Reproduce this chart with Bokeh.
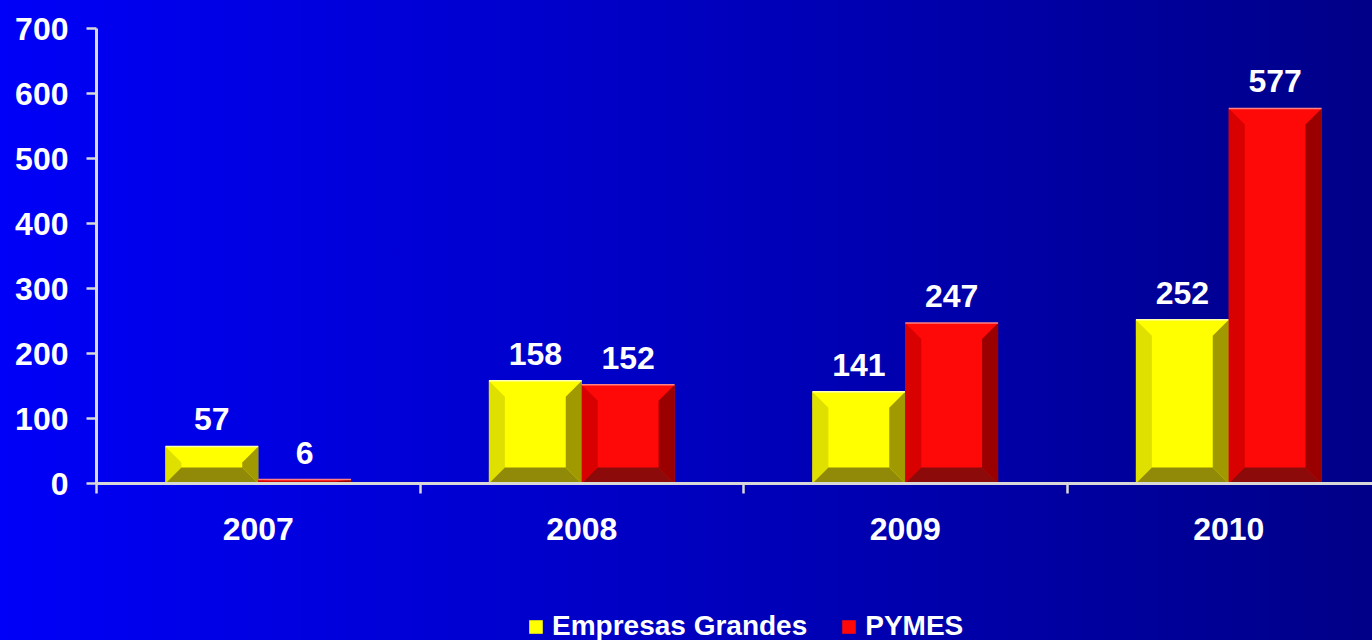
from bokeh.plotting import figure
from bokeh.layouts import column
from bokeh.models import (Range1d, FixedTicker, Legend, LegendItem)
from bokeh.embed import file_html
from bokeh.resources import INLINE
from bokeh.core.properties import value

# ---- data ----
years = ["2007", "2008", "2009", "2010"]
empresas_grandes = [57, 158, 141, 252]
pymes = [6, 152, 247, 577]
y_ticks = [0, 100, 200, 300, 400, 500, 600, 700]
series_names = ["Empresas Grandes", "PYMES"]

FONT = "Liberation Sans"
BG = {"background": "linear-gradient(to right, #0000F8, #000088)"}
W, H, LEG_H = 1372, 600, 40
FRAME_L, FRAME_T, FRAME_B = 96, 28, 117
frame_w = W - FRAME_L
frame_h = H - FRAME_T - FRAME_B
cat_px = 323.5
x_end = frame_w / cat_px
y_end = 700

p = figure(width=W, height=H, output_backend="svg", toolbar_location=None,
           x_range=Range1d(0, x_end), y_range=Range1d(0, y_end),
           min_border_left=FRAME_L, min_border_top=FRAME_T,
           min_border_bottom=FRAME_B, min_border_right=0)
p.styles = BG
p.background_fill_color = None
p.border_fill_color = None
p.outline_line_color = None
p.grid.visible = False

# bars
bw = 0.287
centers = [i + 0.5 for i in range(len(years))]
bx = 16 / cat_px                 # bevel width in x units
by_full = 16 * y_end / frame_h   # bevel height in y units

def bevel_parts(xc, val):
    xl, xr = xc - bw / 2, xc + bw / 2
    by = min(by_full, val / 2)
    bxx = min(bx, bw / 2)
    left = ([xl, xl, xl + bxx, xl + bxx], [0, val, val - by, by])
    right = ([xr, xr, xr - bxx, xr - bxx], [0, val, val - by, by])
    bottom = ([xl, xr, xr - bxx, xl + bxx], [0, 0, by, by])
    return left, right, bottom

styles = [
    ("#FFFF00", "#E0E000", "#A09A00", "#908A08", "#FFFFB0"),
    ("#FF0808", "#D80000", "#9A0000", "#8C0A0A", "#FF8080"),
]
series = [(series_names[0], empresas_grandes, -bw / 2), (series_names[1], pymes, bw / 2)]

for (name, vals, off), (face, lc, rc, bc, edge) in zip(series, styles):
    xs = [c + off for c in centers]
    p.vbar(x=xs, top=vals, width=bw, bottom=0, fill_color=face, line_color=None)
    Lx, Ly, Rx, Ry, Bx, By = [], [], [], [], [], []
    for xc, v in zip(xs, vals):
        (lx, ly), (rx, ry), (bbx, bby) = bevel_parts(xc, v)
        Lx.append(lx); Ly.append(ly); Rx.append(rx); Ry.append(ry); Bx.append(bbx); By.append(bby)
    p.patches(xs=Lx, ys=Ly, fill_color=lc, line_color=None)
    p.patches(xs=Rx, ys=Ry, fill_color=rc, line_color=None)
    p.patches(xs=Bx, ys=By, fill_color=bc, line_color=None)
    p.segment(x0=[x - bw / 2 for x in xs], x1=[x + bw / 2 for x in xs],
              y0=vals, y1=vals, line_color=edge, line_width=1.5)
    p.text(x=xs, y=vals, text=[str(v) for v in vals], y_offset=-27,
           text_align="center", text_baseline="alphabetic",
           text_color="white", text_font=value(FONT), text_font_size="32px",
           text_font_style="bold")

# axes
ax = p.xaxis[0]
ax.ticker = FixedTicker(ticks=centers, minor_ticks=[0, 1, 2, 3, 4])
ax.major_label_overrides = {c: y for c, y in zip(centers, years)}
ax.major_tick_out = 0
ax.major_tick_in = 0
ax.minor_tick_out = 10
ax.minor_tick_in = 0
ax.minor_tick_line_color = "#D8D8D8"
ax.minor_tick_line_width = 2.5
ax.axis_line_color = "#D8D8D8"
ax.axis_line_width = 3
ax.major_label_text_color = "white"
ax.major_label_text_font = FONT
ax.major_label_text_font_size = "32px"
ax.major_label_text_font_style = "bold"
ax.major_label_standoff = 24

ay = p.yaxis[0]
ay.ticker = FixedTicker(ticks=y_ticks, minor_ticks=[])
ay.major_tick_out = 10
ay.major_tick_in = 0
ay.major_tick_line_color = "#D8D8D8"
ay.major_tick_line_width = 2.5
ay.axis_line_color = "#D8D8D8"
ay.axis_line_width = 3
ay.major_label_text_color = "white"
ay.major_label_text_font = FONT
ay.major_label_text_font_size = "32px"
ay.major_label_text_font_style = "bold"
ay.major_label_standoff = 18

# legend strip (separate figure directly below the chart)
p2 = figure(width=W, height=LEG_H, output_backend="svg", toolbar_location=None,
            x_range=Range1d(0, 1), y_range=Range1d(0, 1),
            x_axis_location=None, y_axis_location=None,
            min_border=0, min_border_left=0, min_border_right=0,
            min_border_top=0, min_border_bottom=0)
p2.styles = BG
p2.background_fill_color = None
p2.border_fill_color = None
p2.outline_line_color = None
p2.grid.visible = False

items = []
for name, (face, lc, rc, bc, edge) in zip(series_names, styles):
    r = p2.rect(x=[-5], y=[-5], width=1, height=1, fill_color=face, line_color=None)
    items.append(LegendItem(label=name, renderers=[r]))

legend = Legend(items=items, orientation="horizontal", location=(431, -2),
                background_fill_alpha=0, border_line_alpha=0,
                label_text_color="white", label_text_font=FONT,
                label_text_font_size="28px", label_text_font_style="bold",
                glyph_width=17, glyph_height=17,
                label_standoff=8, spacing=33, padding=0, margin=0)
p2.add_layout(legend)

layout = column(p, p2, spacing=0)
open("out.html", "w").write(file_html(layout, INLINE))
